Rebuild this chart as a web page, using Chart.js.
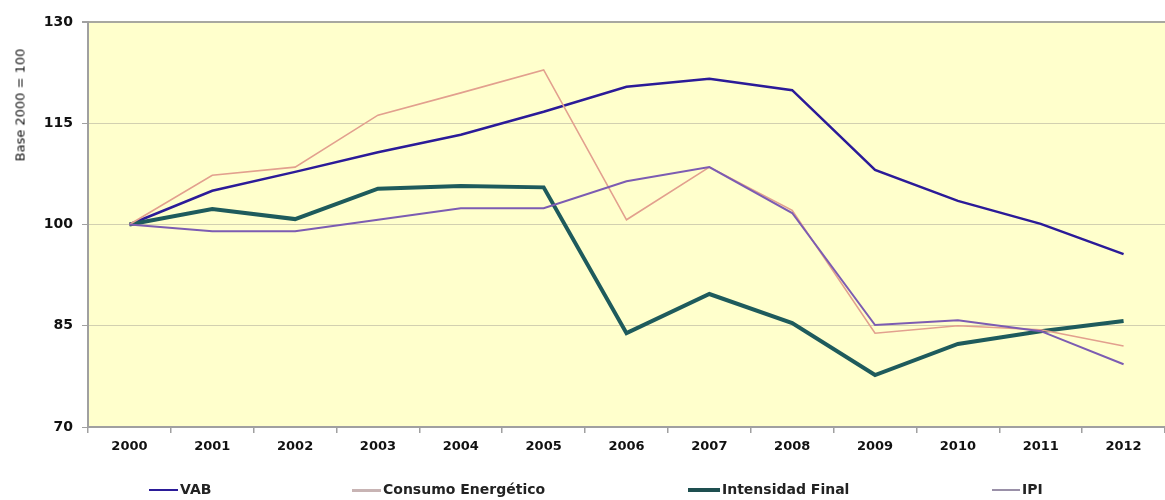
<!DOCTYPE html>
<html>
<head>
<meta charset="utf-8">
<script src="https://cdn.jsdelivr.net/npm/chart.js@4.4.1/dist/chart.umd.min.js"></script>
<style>
  html, body { margin: 0; padding: 0; background: #ffffff; }
  #wrap { position: relative; width: 1165px; height: 500px; overflow: hidden; }
  canvas { position: absolute; left: 0; top: 0; }
  .leg { position: absolute; top: 480px; height: 18px; font: bold 14px "DejaVu Sans", sans-serif; color: #222; white-space: nowrap; line-height: 18px; }
  .leg span.ln { display: inline-block; vertical-align: middle; margin-right: 2px; }
  #ytitle { position: absolute; left: 20px; top: 105px; transform: translate(-50%, -50%) rotate(-90deg); font: 13px "DejaVu Sans", sans-serif; color: #111; white-space: nowrap; }
</style>
</head>
<body>
<div id="wrap">
  <canvas id="c" width="1165" height="500"></canvas>
  <div id="ytitle">Base 2000 = 100</div>
  <div class="leg" style="left:149px"><span class="ln" style="width:29px;height:2px;background:#2B1B98"></span>VAB</div>
  <div class="leg" style="left:352px"><span class="ln" style="width:29px;height:3px;background:#C8B4B4"></span>Consumo Energético</div>
  <div class="leg" style="left:688px"><span class="ln" style="width:32px;height:4px;background:#1E4F50"></span>Intensidad Final</div>
  <div class="leg" style="left:992px"><span class="ln" style="width:28px;height:2px;background:#9A90A8"></span>IPI</div>
</div>
<script>
const years = ["2000","2001","2002","2003","2004","2005","2006","2007","2008","2009","2010","2011","2012"];
const vab = [100, 105.0, 107.8, 110.7, 113.3, 116.7, 120.4, 121.6, 119.9, 108.1, 103.5, 100.1, 95.6];
const consumo = [100, 107.3, 108.5, 116.2, 119.5, 122.9, 100.7, 108.5, 102.1, 83.9, 85.0, 84.4, 82.0];
const intensidad = [100, 102.3, 100.8, 105.3, 105.7, 105.5, 83.9, 89.7, 85.4, 77.7, 82.3, 84.2, 85.7];
const ipi = [100, 99.0, 99.0, 100.7, 102.4, 102.4, 106.4, 108.5, 101.7, 85.1, 85.8, 84.2, 79.3];
const yTicks = [70, 85, 100, 115, 130];

const bgPlugin = {
  id: 'plotbg',
  beforeDraw(chart) {
    const a = chart.chartArea, ctx = chart.ctx;
    ctx.save();
    ctx.fillStyle = '#FFFFCC';
    ctx.fillRect(a.left, a.top, a.right - a.left, a.bottom - a.top);
    ctx.restore();
  }
};

new Chart(document.getElementById('c'), {
  type: 'line',
  data: {
    labels: years,
    datasets: [
      { label: 'IPI', data: ipi, borderColor: '#7C5CB2', borderWidth: 2, pointRadius: 0, tension: 0 },
      { label: 'Consumo Energético', data: consumo, borderColor: '#E2A08E', borderWidth: 1.6, pointRadius: 0, tension: 0 },
      { label: 'Intensidad Final', data: intensidad, borderColor: '#1E5B5C', borderWidth: 4, pointRadius: 0, tension: 0 },
      { label: 'VAB', data: vab, borderColor: '#2B1B98', borderWidth: 2.5, pointRadius: 0, tension: 0 }
    ]
  },
  options: {
    responsive: false,
    animation: false,
    layout: { padding: { top: 22, right: 0, left: 0, bottom: 0 } },
    plugins: { legend: { display: false }, tooltip: { enabled: false } },
    scales: {
      x: {
        offset: true,
        grid: { offset: true, drawOnChartArea: false, drawTicks: true, tickLength: 6, color: '#A0A0A0', lineWidth: 1.5 },
        border: { color: '#A0A0A0', width: 2 },
        ticks: { color: '#111', font: { family: 'DejaVu Sans', weight: 'bold', size: 13 }, padding: 6, maxRotation: 0, autoSkip: false },
        afterFit(s) { s.height = 73; }
      },
      y: {
        min: 70, max: 130,
        afterBuildTicks(s) { s.ticks = yTicks.map(v => ({ value: v })); },
        grid: {
          color: ctx => (ctx.tick && ctx.tick.value === 130) ? '#A8A8A0' : '#D2D0B0',
          lineWidth: ctx => (ctx.tick && ctx.tick.value === 130) ? 2 : 1,
          tickLength: 6, tickColor: '#A0A0A0'
        },
        border: { color: '#A0A0A0', width: 2 },
        ticks: { color: '#111', font: { family: 'DejaVu Sans', weight: 'bold', size: 14 }, padding: 9 },
        title: { display: false },
        afterFit(s) { s.width = 88; }
      }
    }
  },
  plugins: [bgPlugin]
});
</script>
</body>
</html>
